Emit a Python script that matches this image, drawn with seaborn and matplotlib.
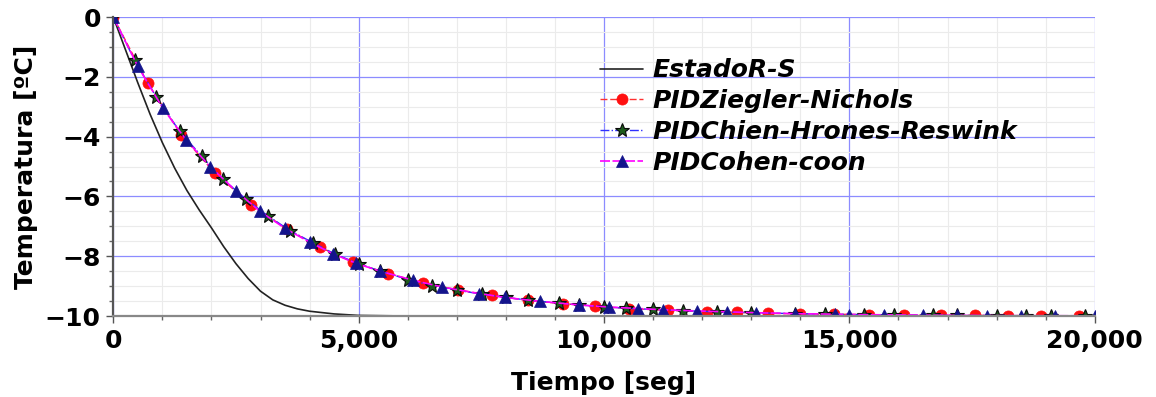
import matplotlib
matplotlib.use("Agg")
import matplotlib.pyplot as plt
from matplotlib.ticker import MultipleLocator, FuncFormatter
import seaborn as sns

# ---- data ----
t_rs = [0, 250, 500, 750, 1000, 1250, 1500, 1750, 2000, 2250, 2500, 2750, 3000,
        3250, 3500, 3750, 4000, 4500, 5000, 6000, 20000]
T_rs = [0, -1.1, -2.2, -3.25, -4.2, -5.05, -5.8, -6.45, -7.05, -7.68, -8.25, -8.75,
        -9.17, -9.46, -9.64, -9.76, -9.84, -9.93, -9.98, -10.0, -10.0]

t_zn = [0, 700, 1390, 2070, 2810, 3530, 4210, 4890, 5600, 6320, 7030, 7710, 8460,
        9170, 9820, 10500, 11300, 12100, 12700, 13340, 14000, 14690, 15400, 16120,
        16870, 17550, 18240, 18900, 19670]
T_zn = [0, -2.2, -3.95, -5.22, -6.28, -7.08, -7.7, -8.2, -8.58, -8.89, -9.13, -9.31,
        -9.48, -9.59, -9.67, -9.75, -9.81, -9.86, -9.88, -9.91, -9.93, -9.94, -9.955,
        -9.965, -9.975, -9.98, -9.985, -9.99, -9.99]

t_chr = [0, 435, 880, 1350, 1800, 2240, 2710, 3160, 3600, 4070, 4520, 5000, 5440,
         6010, 6490, 7010, 7520, 8000, 8460, 9080, 9500, 10000, 10450, 11000, 11600,
         12300, 13000, 13900, 14500, 15300, 15900, 16700, 17200, 18000, 18600, 19100,
         19800]
T_chr = [0, -1.45, -2.68, -3.82, -4.65, -5.43, -6.1, -6.66, -7.14, -7.55, -7.93,
         -8.25, -8.5, -8.78, -8.98, -9.14, -9.27, -9.38, -9.47, -9.57, -9.63, -9.69,
         -9.74, -9.78, -9.82, -9.86, -9.89, -9.92, -9.94, -9.955, -9.965, -9.975,
         -9.98, -9.985, -9.99, -9.99, -9.995]

t_cc = [0, 500, 1010, 1480, 1970, 2510, 2990, 3500, 4010, 4480, 4950, 5440, 6100,
        6700, 7460, 7990, 8700, 9500, 10100, 10700, 11200, 11900, 12500, 13100,
        13900, 14700, 15000, 15700, 16500, 17200, 17800, 18500, 19200, 20000]
T_cc = [0, -1.65, -3.05, -4.1, -5.0, -5.83, -6.5, -7.07, -7.54, -7.92, -8.24, -8.5,
        -8.8, -9.03, -9.25, -9.38, -9.51, -9.63, -9.7, -9.75, -9.79, -9.83, -9.86,
        -9.89, -9.92, -9.94, -9.95, -9.96, -9.97, -9.98, -9.985, -9.99, -9.99, -9.995]

labels = ["EstadoR-S", "PIDZiegler-Nichols", "PIDChien-Hrones-Reswink", "PIDCohen-coon"]
x_ticks = [0, 5000, 10000, 15000, 20000]
y_ticks = [0, -2, -4, -6, -8, -10]

# ---- figure ----
sns.set_style("white")
plt.rcParams["font.family"] = ["DejaVu Sans"]
plt.rcParams["text.color"] = "black"
plt.rcParams["axes.labelcolor"] = "black"
plt.rcParams["xtick.color"] = "black"
plt.rcParams["ytick.color"] = "black"

FS = 18

fig = plt.figure(figsize=(11.56, 3.97), dpi=100)
ax = fig.add_axes([0.098, 0.204, 0.849, 0.753])

sns.lineplot(x=t_rs, y=T_rs, ax=ax, color="#222222", lw=1.2, label=labels[0],
             estimator=None, sort=False)
sns.lineplot(x=t_zn, y=T_zn, ax=ax, color="#ff3030", lw=1.0, ls=(0, (5, 2)),
             marker="o", markersize=8, markerfacecolor="#ff1010",
             markeredgecolor="#ff1010", markeredgewidth=0.5, label=labels[1],
             estimator=None, sort=False)
sns.lineplot(x=t_chr, y=T_chr, ax=ax, color="#3030ff", lw=1.0, ls="-.",
             marker="*", markersize=10, markerfacecolor="#1d5a1d",
             markeredgecolor="#0a0a0a", markeredgewidth=0.8, label=labels[2],
             estimator=None, sort=False)
sns.lineplot(x=t_cc, y=T_cc, ax=ax, color="#ff00ff", lw=1.2, ls=(0, (6, 1.5)),
             marker="^", markersize=8, markerfacecolor="#14148c",
             markeredgecolor="#14148c", markeredgewidth=0.5, label=labels[3],
             estimator=None, sort=False)

ax.set_xlim(0, 20000)
ax.set_ylim(-10, 0)
ax.xaxis.set_minor_locator(MultipleLocator(1000))
ax.yaxis.set_minor_locator(MultipleLocator(0.5))
ax.set_xticks(x_ticks)
ax.set_yticks(y_ticks)
ax.xaxis.set_major_formatter(FuncFormatter(lambda v, p: f"{int(v):,}"))
ax.yaxis.set_major_formatter(FuncFormatter(lambda v, p: "0" if v == 0 else f"\u2212{abs(int(v))}"))

ax.grid(True, which="minor", color="#ebebeb", lw=0.8)
ax.grid(True, which="major", color="#8c8cff", lw=0.9)
ax.set_axisbelow(True)

for s in ["top", "right"]:
    ax.spines[s].set_visible(False)
ax.spines["left"].set_color("#555555")
ax.spines["left"].set_linewidth(1.6)
ax.spines["bottom"].set_color("#888888")
ax.spines["bottom"].set_linewidth(1.6)

ax.tick_params(axis="both", which="both", bottom=True, left=True)
ax.tick_params(axis="both", which="major", direction="out", length=5, width=1,
               color="#555555", labelsize=FS, pad=4)
ax.tick_params(axis="both", which="minor", direction="out", length=3, width=1,
               color="#666666")
for lab in ax.get_xticklabels() + ax.get_yticklabels():
    lab.set_fontweight("bold")

ax.set_xlabel("Tiempo [seg]", fontsize=FS, fontweight="bold", labelpad=13)
ax.set_ylabel("Temperatura [ºC]", fontsize=FS, fontweight="bold", labelpad=5)

leg = ax.legend(loc="upper left", bbox_to_anchor=(0.486, 0.895), frameon=False,
                prop={"size": FS, "weight": "bold", "style": "italic"},
                handlelength=1.7, handletextpad=0.4, labelspacing=0.27,
                borderaxespad=0.0)

fig.savefig("out.png", dpi=100)
